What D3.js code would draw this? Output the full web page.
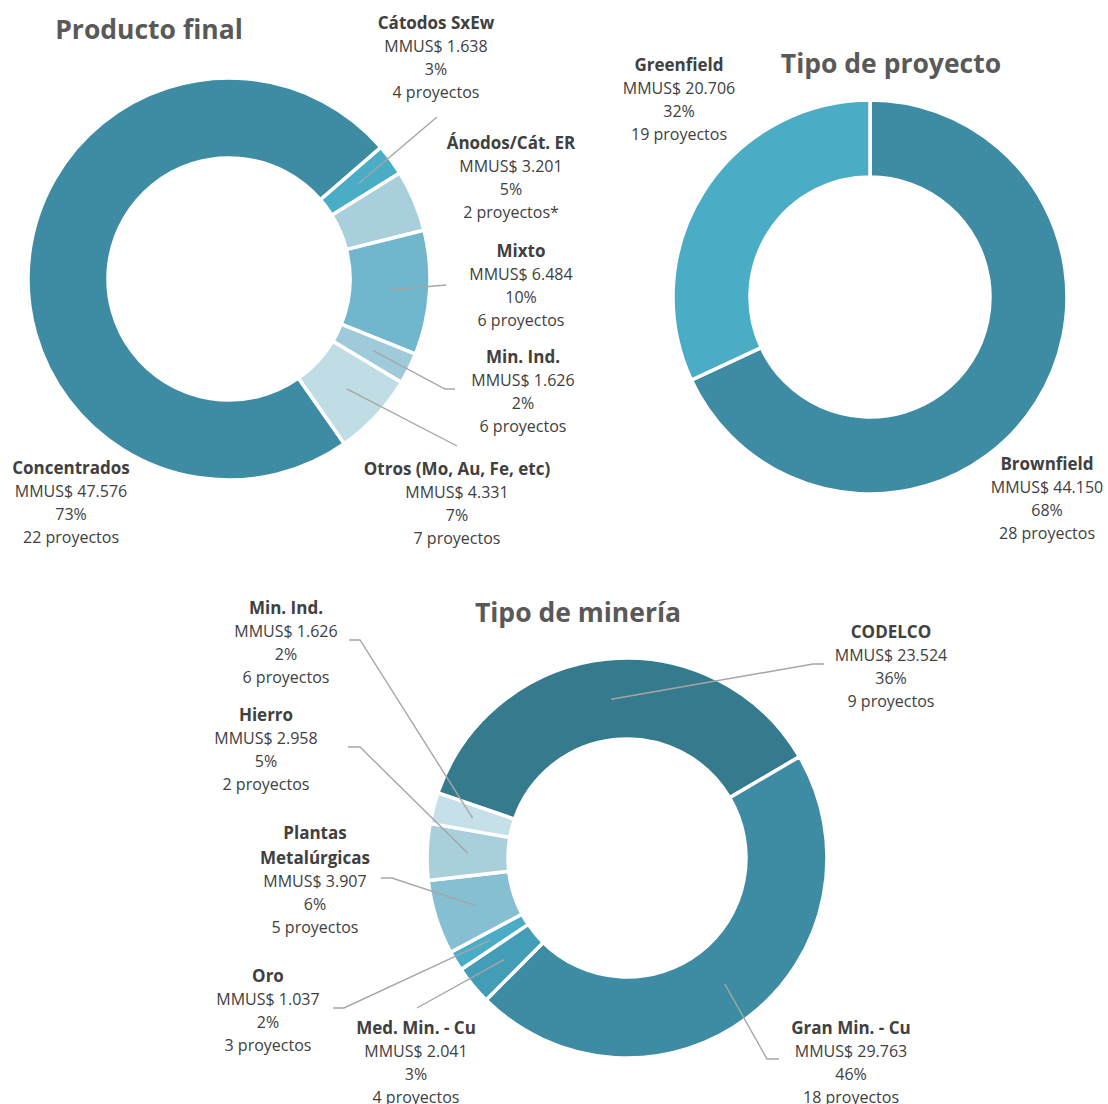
<!DOCTYPE html>
<html>
<head>
<meta charset="utf-8">
<script src="https://cdn.jsdelivr.net/npm/d3@7"></script>
<style>
  body { margin: 0; background: #fff; }
  svg { display: block; font-family: "Open Sans", sans-serif; }
</style>
</head>
<body>
<svg id="chart" width="1108" height="1104"></svg>
<script>
// ---- data ----
const productoCategories = ['Concentrados', 'Cátodos SxEw', 'Ánodos/Cát. ER', 'Mixto', 'Min. Ind.', 'Otros (Mo, Au, Fe, etc)'];
const productoValues = [47576, 1638, 3201, 6484, 1626, 4331];
const productoShares = ['73%', '3%', '5%', '10%', '2%', '7%'];
const productoProjects = ['22 proyectos', '4 proyectos', '2 proyectos*', '6 proyectos', '6 proyectos', '7 proyectos'];

const proyectoCategories = ['Brownfield', 'Greenfield'];
const proyectoValues = [44150, 20706];
const proyectoShares = ['68%', '32%'];
const proyectoProjects = ['28 proyectos', '19 proyectos'];

const mineriaCategories = ['CODELCO', 'Gran Min. - Cu', 'Med. Min. - Cu', 'Oro', 'Plantas Metalúrgicas', 'Hierro', 'Min. Ind.'];
const mineriaValues = [23524, 29763, 2041, 1037, 3907, 2958, 1626];
const mineriaShares = ['36%', '46%', '3%', '2%', '6%', '5%', '2%'];
const mineriaProjects = ['9 proyectos', '18 proyectos', '4 proyectos', '3 proyectos', '5 proyectos', '2 proyectos', '6 proyectos'];

// ---- layout ----
const es = d3.formatLocale({ decimal: ',', thousands: '.', grouping: [3], currency: ['$', ''] });
const fmt = es.format(',d');

const svg = d3.select('#chart');

function donut(cfg) {
    const data = cfg.categories.map((c, i) => ({
        name: c, value: cfg.values[i], share: cfg.shares[i], projects: cfg.projects[i]
    }));

    const pie = d3.pie()
        .sort(null)
        .value(d => d.value)
        .startAngle(cfg.start * Math.PI / 180)
        .endAngle(cfg.start * Math.PI / 180 + 2 * Math.PI);

    const arc = d3.arc().innerRadius(cfg.inner).outerRadius(cfg.outer);
    const color = d3.scaleOrdinal().domain(cfg.categories).range(cfg.colors);

    const g = svg.append('g').attr('transform', `translate(${cfg.cx},${cfg.cy})`);
    const arcs = pie(data);

    g.selectAll('path.slice')
        .data(arcs)
        .join('path')
        .attr('class', 'slice')
        .attr('d', arc)
        .attr('fill', d => color(d.data.name))
        .attr('stroke', '#fff')
        .attr('stroke-width', 3.5)
        .attr('stroke-linejoin', 'miter');

    // leader lines
    arcs.forEach((a, i) => {
        const lab = cfg.labels[i];
        if (!lab.leader) return;
        const c = arc.centroid(a);
        const pts = [[cfg.cx + c[0], cfg.cy + c[1]]].concat(lab.leader);
        svg.append('path')
            .attr('d', d3.line()(pts))
            .attr('fill', 'none')
            .attr('stroke', '#a6a6a6')
            .attr('stroke-width', 1.4);
    });

    // labels
    arcs.forEach((a, i) => {
        const lab = cfg.labels[i];
        const d = a.data;
        const names = lab.wrap || [d.name];
        const t = svg.append('text')
            .attr('text-anchor', 'middle')
            .attr('dominant-baseline', 'central')
            .attr('fill', '#404040');
        let y = lab.y;
        names.forEach(n => {
            t.append('tspan').attr('x', lab.x).attr('y', y)
                .style('font-weight', 'bold').style('font-size', '17px').text(n);
            y += 25;
        });
        y -= 1;
        [`MMUS$ ${fmt(d.value)}`, d.share, d.projects].forEach(s => {
            t.append('tspan').attr('x', lab.x).attr('y', y)
                .style('font-size', '16px').text(s);
            y += 23.2;
        });
    });

    svg.append('text')
        .attr('x', cfg.title.x)
        .attr('y', cfg.title.y)
        .attr('text-anchor', 'middle')
        .attr('dominant-baseline', 'central')
        .attr('fill', '#595959')
        .style('font-weight', 'bold')
        .style('font-size', '26.5px')
        .text(cfg.title.text);
}

donut({
    categories: productoCategories, values: productoValues, shares: productoShares, projects: productoProjects,
    cx: 229, cy: 279, outer: 201, inner: 121, start: 145,
    colors: ['#3d8ca3', '#4aacc5', '#a9cfdc', '#70b6cc', '#9ecad9', '#c0dde6'],
    title: { text: 'Producto final', x: 149, y: 29 },
    labels: [
        { x: 71, y: 467 },
        { x: 436, y: 22, leader: [[437, 117]] },
        { x: 511, y: 142 },
        { x: 521, y: 250, leader: [[446, 285]] },
        { x: 523, y: 356, leader: [[445, 389], [455, 389]] },
        { x: 457, y: 468, leader: [[457, 446]] }
    ]
});

donut({
    categories: proyectoCategories, values: proyectoValues, shares: proyectoShares, projects: proyectoProjects,
    cx: 870, cy: 297, outer: 197, inner: 120, start: 0,
    colors: ['#3d8ca3', '#4aacc5'],
    title: { text: 'Tipo de proyecto', x: 891, y: 63 },
    labels: [
        { x: 1047, y: 463 },
        { x: 679, y: 64 }
    ]
});

donut({
    categories: mineriaCategories, values: mineriaValues, shares: mineriaShares, projects: mineriaProjects,
    cx: 627, cy: 858, outer: 200, inner: 119, start: 289,
    colors: ['#357b8d', '#3d8ca3', '#439db6', '#4aacc5', '#86bfd1', '#a9cfdc', '#c5e0e8'],
    title: { text: 'Tipo de minería', x: 578, y: 612 },
    labels: [
        { x: 891, y: 631, leader: [[813, 664], [824, 664]] },
        { x: 851, y: 1027, leader: [[767, 1059], [779, 1059]] },
        { x: 416, y: 1027, leader: [[417, 1008]] },
        { x: 268, y: 975, leader: [[344, 1008], [333, 1008]] },
        { x: 315, y: 832, wrap: ['Plantas', 'Metalúrgicas'], leader: [[392, 878], [381, 878]] },
        { x: 266, y: 714, leader: [[360, 747], [348, 747]] },
        { x: 286, y: 607, leader: [[360, 640], [349, 640]] }
    ]
});
</script>
</body>
</html>
